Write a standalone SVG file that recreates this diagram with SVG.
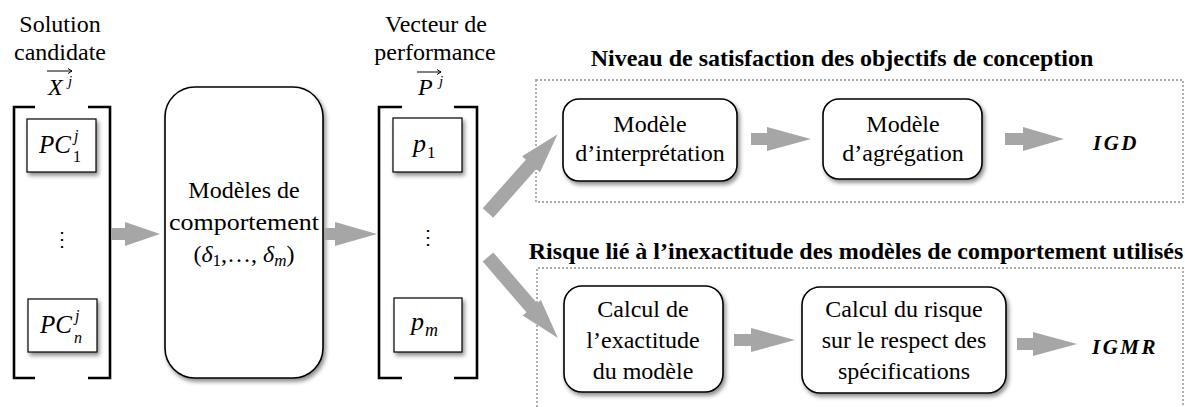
<svg xmlns="http://www.w3.org/2000/svg" width="1185" height="407" viewBox="0 0 1185 407" font-family="'Liberation Serif', 'DejaVu Serif', serif">
<defs>
<filter id="sh" x="-20%" y="-20%" width="150%" height="150%">
<feDropShadow dx="2" dy="3" stdDeviation="2" flood-color="#000" flood-opacity="0.45"/>
</filter>
</defs>
<style>
text{font-family:'Liberation Serif','DejaVu Serif',serif;fill:#000}
.t{font-size:24px;text-anchor:middle}
.h{font-size:24px;font-weight:bold;text-anchor:middle}
.m{font-style:italic}
.mb{font-style:italic;font-weight:bold;font-size:21px;letter-spacing:2.5px}
.sq{fill:#fff;stroke:#000;stroke-width:1.2;filter:url(#sh)}
.rn{fill:#fff;stroke:#000;stroke-width:1.6;filter:url(#sh)}
.br{fill:none;stroke:#000;stroke-width:2.6}
.dot{fill:none;stroke:#a8a8a8;stroke-width:1.8;stroke-dasharray:2,2}
.arr{fill:#a6a6a6;stroke:none}
.va{fill:none;stroke:#000;stroke-width:1}
.el{font-family:'DejaVu Serif',serif;font-size:20px;text-anchor:middle}
</style>
<rect width="1185" height="407" fill="#fff"/>

<g id="frames">
<rect class="dot" x="536" y="80" width="647" height="122"/>
<path class="dot" d="M537,407 V268 H1183 V407"/>
<text class="h" x="842" y="66">Niveau de satisfaction des objectifs de conception</text>
<text class="h" x="856" y="259" font-size="23.4">Risque lié à l’inexactitude des modèles de comportement utilisés</text>
</g>

<g id="solution">
<text class="t" x="60" y="32">Solution</text>
<text class="t" x="60" y="60">candidate</text>
<path class="va" d="M47,71 H72 M68,68.5 L72,71 L68,73.5"/>
<text class="m" x="48" y="95" font-size="24">X</text>
<text class="m" x="68" y="86" font-size="15">j</text>
<path class="br" d="M35,107 H14 V378 H35 M88,107 H110 V378 H88"/>
<g id="pc1">
<rect class="sq" x="27" y="119" width="69" height="53"/>
<text class="m" x="39" y="153" font-size="25">PC</text>
<text class="m" x="74" y="141" font-size="16">j</text>
<text x="73" y="162" font-size="16">1</text>
</g>
<text class="el" x="62" y="246">⋮</text>
<g id="pcn">
<rect class="sq" x="28" y="299" width="69" height="53"/>
<text class="m" x="40" y="333" font-size="25">PC</text>
<text class="m" x="75" y="321" font-size="16">j</text>
<text class="m" x="74" y="343" font-size="16">n</text>
</g>
</g>

<g id="models">
<rect class="rn" x="165" y="87" width="158" height="291" rx="30"/>
<text class="t" x="244" y="198">Modèles de</text>
<text class="t" x="244" y="230" textLength="150" lengthAdjust="spacingAndGlyphs">comportement</text>
<text class="t" x="244" y="262" font-size="26">(<tspan class="m">δ</tspan><tspan font-size="17" dy="4">1</tspan><tspan dy="-4">,…, </tspan><tspan class="m">δ</tspan><tspan class="m" font-size="17" dy="4">m</tspan><tspan dy="-4">)</tspan></text>
</g>

<g id="performance">
<text class="t" x="436" y="32">Vecteur de</text>
<text class="t" x="435" y="60">performance</text>
<path class="va" d="M417,72 H441 M437,69.5 L441,72 L437,74.5"/>
<text class="m" x="418" y="95" font-size="24">P</text>
<text class="m" x="439" y="86" font-size="15">j</text>
<path class="br" d="M402,107 H379 V378 H402 M454,107 H477 V378 H454"/>
<g id="p1">
<rect class="sq" x="393" y="118" width="69" height="54"/>
<text class="m" x="413" y="152" font-size="26">p</text>
<text x="427" y="158" font-size="17">1</text>
</g>
<text class="el" x="428" y="244">⋮</text>
<g id="pm">
<rect class="sq" x="394" y="298" width="68" height="54"/>
<text class="m" x="411" y="330" font-size="26">p</text>
<text class="m" x="425" y="336" font-size="18">m</text>
</g>
</g>

<g id="interp">
<rect class="rn" x="563" y="99" width="174" height="82" rx="16"/>
<text class="t" x="650" y="132">Modèle</text>
<text class="t" x="650" y="161">d’interprétation</text>
</g>
<g id="agg">
<rect class="rn" x="823" y="99" width="159" height="80" rx="16"/>
<text class="t" x="903" y="132">Modèle</text>
<text class="t" x="903" y="161">d’agrégation</text>
</g>
<g id="igd"><text class="mb" x="1093" y="150">IGD</text></g>

<g id="exact">
<rect class="rn" x="564" y="286" width="159" height="106" rx="18"/>
<text class="t" x="643" y="317">Calcul de</text>
<text class="t" x="643" y="348">l’exactitude</text>
<text class="t" x="643" y="379">du modèle</text>
</g>
<g id="risk">
<rect class="rn" x="802" y="287" width="204" height="106" rx="18"/>
<text class="t" x="904" y="317">Calcul du risque</text>
<text class="t" x="904" y="348">sur le respect des</text>
<text class="t" x="904" y="379">spécifications</text>
</g>
<g id="igmr"><text class="mb" x="1092" y="354">IGMR</text></g>

<g id="connectors">
<path class="arr" d="M111,228 H125 V222 L160,234 L125,246 V240 H111 Z"/>
<path class="arr" d="M324,228 H335 V222 L377,234 L335,246 V240 H324 Z"/>
<path class="arr" transform="translate(488,213) rotate(-48.5)" d="M0,-7 H65 V-12 L105,0 L65,12 V7 H0 Z"/>
<path class="arr" transform="translate(488,257) rotate(49.2)" d="M0,-7 H67 V-12 L107,0 L67,12 V7 H0 Z"/>
<path class="arr" d="M751,133 H767 V127 L811,139 L767,151 V145 H751 Z"/>
<path class="arr" d="M1005,133 H1023 V127 L1064,139 L1023,151 V145 H1005 Z"/>
<path class="arr" d="M734,334 H751 V328 L795,340 L751,352 V346 H734 Z"/>
<path class="arr" d="M1017,338 H1033 V332 L1077,344 L1033,356 V350 H1017 Z"/>
</g>
</svg>
